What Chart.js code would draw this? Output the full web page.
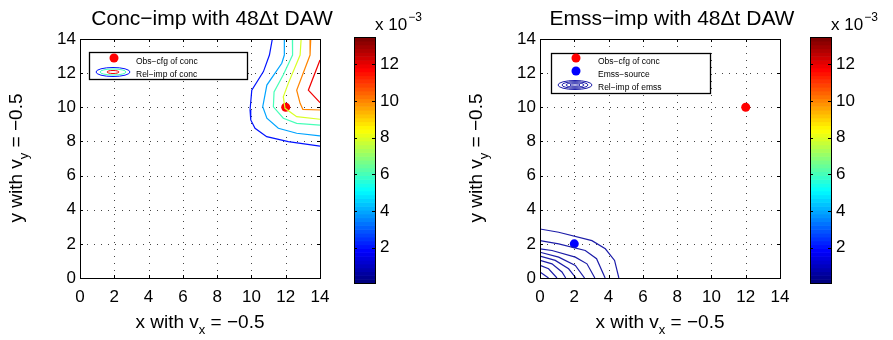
<!DOCTYPE html>
<html>
<head>
<meta charset="utf-8">
<script src="https://cdn.jsdelivr.net/npm/chart.js@4.4.1/dist/chart.umd.min.js"></script>
<style>
  body { margin: 0; background: #fff; }
  #wrap { position: relative; width: 893px; height: 340px; overflow: hidden; background: #fff; }
  canvas { position: absolute; top: 0; }
</style>
</head>
<body>
<div id="wrap">
  <canvas id="plot-conc" width="345" height="340" style="left:0"></canvas>
  <canvas id="cbar-conc" width="100" height="340" style="left:345px"></canvas>
  <canvas id="plot-emss" width="345" height="340" style="left:460px"></canvas>
  <canvas id="cbar-emss" width="92" height="340" style="left:801px"></canvas>
</div>
<script>
const FONT = '"Liberation Sans", Arial, Helvetica, sans-serif';

// axes
const axisTicks = [0, 2, 4, 6, 8, 10, 12, 14];
const colorbarTicks = [2, 4, 6, 8, 10, 12];
const colorbarMin = 0.07;   // x 10^-3
const colorbarMax = 13.5;

// points
const obsPoint = [12, 10];
const sourcePoint = [2, 2];

// conc-imp contours (level in 10^-3, then x,y vertices)
const concLevels = [2, 4, 6, 8, 10, 12];
const concLevel2 = [[11.22, 14], [11.05, 13.06], [10.7, 12.09], [10.02, 11.0], [9.92, 9.84], [9.96, 9.26], [10.21, 8.77], [10.89, 8.28], [12.15, 7.99], [14, 7.73]];
const concLevel4 = [[11.92, 14], [11.92, 13.06], [11.77, 12.58], [10.9, 11.3], [10.66, 10.04], [10.9, 9.36], [11.57, 8.77], [12.64, 8.48], [14, 8.32]];
const concLevel6 = [[12.39, 14], [12.4, 13.06], [11.86, 11.9], [11.32, 10.9], [11.28, 10.03], [11.86, 9.36], [12.64, 9.06], [14, 8.96]];
const concLevel8 = [[12.9, 14], [12.84, 13.06], [12.15, 11.4], [11.86, 10.62], [11.96, 9.94], [12.64, 9.45], [14, 9.3]];
const concLevel10 = [[13.46, 14], [13.42, 13.06], [12.64, 11.0], [12.84, 10.23], [13.0, 9.88], [14, 9.84]];
const concLevel12 = [[14, 12.77], [13.32, 11.0], [14, 10.27]];

// emss-imp contours
const emssLine1 = [[0, 2.87], [1.09, 2.68], [3.03, 2.19], [3.81, 1.71], [4.35, 1.03], [4.6, 0]];
const emssLine2 = [[0, 2.19], [1.09, 2.0], [2.64, 1.61], [3.3, 1.13], [3.8, 0]];
const emssLine3 = [[0, 1.71], [0.7, 1.61], [2.06, 1.22], [2.74, 0.83], [3.2, 0]];
const emssLine4 = [[0, 1.51], [1.09, 1.22], [2.06, 0.74], [2.6, 0]];
const emssLine5 = [[0, 1.28], [0.89, 1.03], [1.67, 0.54], [2.1, 0]];
const emssLine6 = [[0, 1.03], [0.7, 0.83], [1.28, 0.35], [1.5, 0]];
const emssLine7 = [[0, 0.74], [0.5, 0.54], [0.99, 0]];
const emssLine8 = [[0, 0.35], [0.5, 0]];

const EMSS_COLOR = '#1c1ca8';

// MATLAB jet, 64 steps
function jet(t) {
    t = Math.max(0, Math.min(1, t));
    t = Math.min(63, Math.floor(t * 64)) / 63;
    const c = v => Math.round(255 * Math.max(0, Math.min(1, v)));
    return `rgb(${c(1.5 - Math.abs(4 * t - 3))},${c(1.5 - Math.abs(4 * t - 2))},${c(1.5 - Math.abs(4 * t - 1))})`;
}
function levelColor(v) {
    return jet((v - colorbarMin) / (colorbarMax - colorbarMin));
}

function toXY(pts) {
    return pts.map(([x, y]) => ({ x, y }));
}

function lineSet(pts, color) {
    return {
        data: toXY(pts), showLine: true, borderColor: color, borderWidth: 1.2,
        pointRadius: 0, fill: false, tension: 0
    };
}

function dotSet(pt, color) {
    return {
        data: toXY([pt]), showLine: false, pointRadius: 4.5,
        backgroundColor: color, borderColor: color, borderWidth: 0
    };
}

// text with one subscript part: parts = [[text, isSub], ...]
function richText(ctx, parts, x, y, size, rotate) {
    const big = `${size}px ${FONT}`, small = `${Math.round(size * 0.7)}px ${FONT}`;
    let total = 0;
    parts.forEach(([t, sub]) => { ctx.font = sub ? small : big; total += ctx.measureText(t).width; });
    ctx.save();
    ctx.translate(x, y);
    if (rotate) ctx.rotate(-Math.PI / 2);
    ctx.fillStyle = '#000';
    ctx.textBaseline = 'alphabetic';
    ctx.textAlign = 'left';
    let cx = -total / 2;
    parts.forEach(([t, sub]) => {
        ctx.font = sub ? small : big;
        ctx.fillText(t, cx, sub ? size * 0.3 : 0);
        cx += ctx.measureText(t).width;
    });
    ctx.restore();
}

function framePlugin(cfg) {
    return {
        id: 'frame',
        beforeDatasetsDraw(chart) {
            const { ctx, chartArea: a, scales: { x, y } } = chart;
            ctx.save();
            ctx.strokeStyle = '#444';
            ctx.lineWidth = 1;
            ctx.setLineDash([1, 6]);
            x.ticks.forEach(t => {
                const px = Math.round(x.getPixelForValue(t.value)) + 0.5;
                ctx.beginPath(); ctx.moveTo(px, a.bottom); ctx.lineTo(px, a.top); ctx.stroke();
            });
            y.ticks.forEach(t => {
                const py = Math.round(y.getPixelForValue(t.value)) + 0.5;
                ctx.beginPath(); ctx.moveTo(a.left, py); ctx.lineTo(a.right, py); ctx.stroke();
            });
            ctx.restore();
        },
        afterDraw(chart) {
            const { ctx, chartArea: a, scales: { x, y } } = chart;
            ctx.save();
            // box + inward ticks
            ctx.strokeStyle = '#000';
            ctx.lineWidth = 1;
            ctx.strokeRect(Math.round(a.left) + 0.5, Math.round(a.top) + 0.5,
                Math.round(a.right - a.left), Math.round(a.bottom - a.top));
            ctx.beginPath();
            x.ticks.forEach(t => {
                const px = Math.round(x.getPixelForValue(t.value)) + 0.5;
                ctx.moveTo(px, a.bottom); ctx.lineTo(px, a.bottom - 3);
                ctx.moveTo(px, a.top); ctx.lineTo(px, a.top + 3);
            });
            y.ticks.forEach(t => {
                const py = Math.round(y.getPixelForValue(t.value)) + 0.5;
                ctx.moveTo(a.left, py); ctx.lineTo(a.left + 3, py);
                ctx.moveTo(a.right, py); ctx.lineTo(a.right - 3, py);
            });
            ctx.stroke();

            // legend box
            const L = cfg.legend;
            ctx.fillStyle = '#fff';
            ctx.fillRect(L.x, L.y, L.w, L.h);
            ctx.strokeStyle = '#000';
            ctx.lineWidth = 1.3;
            ctx.strokeRect(L.x + 0.5, L.y + 0.5, L.w, L.h);
            ctx.font = `8.5px ${FONT}`;
            ctx.textBaseline = 'middle';
            ctx.textAlign = 'left';
            L.items.forEach(it => {
                const iy = L.y + it.dy;
                if (it.kind === 'dot') {
                    ctx.fillStyle = it.color;
                    ctx.beginPath(); ctx.arc(L.x + 25, iy - 4, 4.5, 0, Math.PI * 2); ctx.fill();
                } else {
                    it.rings.forEach(r => {
                        ctx.strokeStyle = r.color;
                        ctx.lineWidth = 1;
                        ctx.beginPath();
                        ctx.ellipse(L.x + 24, iy - 3, r.rx, r.ry, 0, 0, Math.PI * 2);
                        ctx.stroke();
                    });
                }
                ctx.fillStyle = '#000';
                ctx.fillText(it.label, L.x + 47, iy);
            });

            // title and axis labels
            ctx.fillStyle = '#000';
            ctx.font = `21px ${FONT}`;
            ctx.textAlign = 'center';
            ctx.textBaseline = 'alphabetic';
            ctx.fillText(cfg.title, 212, 25);
            richText(ctx, [['x with v', false], ['x', true], [' = \u22120.5', false]], 200, 328, 19, false);
            richText(ctx, [['y with v', false], ['y', true], [' = \u22120.5', false]], 22, 158, 19, true);
            ctx.restore();
        }
    };
}

function makePlot(id, datasets, cfg) {
    const tickFont = { family: FONT, size: 17 };
    return new Chart(document.getElementById(id), {
        type: 'scatter',
        data: { datasets },
        options: {
            responsive: false,
            animation: false,
            layout: { padding: { left: 0, right: 25, top: 39, bottom: 22 } },
            plugins: { legend: { display: false }, tooltip: { enabled: false } },
            scales: {
                x: {
                    type: 'linear', min: 0, max: 14,
                    afterBuildTicks: s => { s.ticks = axisTicks.map(v => ({ value: v })); },
                    afterFit: s => { s.height = 40; },
                    ticks: { font: tickFont, color: '#000', padding: 9, maxRotation: 0 },
                    grid: { display: false, drawTicks: false },
                    border: { display: false }
                },
                y: {
                    type: 'linear', min: 0, max: 14,
                    afterBuildTicks: s => { s.ticks = axisTicks.map(v => ({ value: v })); },
                    afterFit: s => { s.width = 80; },
                    ticks: { font: tickFont, color: '#000', padding: 4 },
                    grid: { display: false, drawTicks: false },
                    border: { display: false }
                }
            }
        },
        plugins: [framePlugin(cfg)]
    });
}

function colorbarPlugin() {
    return {
        id: 'cbar',
        beforeDraw(chart) {
            const { ctx, chartArea: a, scales: { y } } = chart;
            ctx.save();
            const n = 64, step = (colorbarMax - colorbarMin) / n;
            for (let i = 0; i < n; i++) {
                const v0 = colorbarMin + i * step;
                const p0 = y.getPixelForValue(v0), p1 = y.getPixelForValue(v0 + step);
                ctx.fillStyle = jet((i + 0.5) / n);
                ctx.fillRect(a.left, p1, a.right - a.left, p0 - p1 + 0.6);
            }
            ctx.restore();
        },
        afterDraw(chart) {
            const { ctx, chartArea: a, scales: { y } } = chart;
            ctx.save();
            ctx.strokeStyle = '#000';
            ctx.lineWidth = 1;
            ctx.strokeRect(Math.round(a.left) + 0.5, Math.round(a.top) + 0.5,
                Math.round(a.right - a.left), Math.round(a.bottom - a.top));
            ctx.beginPath();
            y.ticks.forEach(t => {
                const py = Math.round(y.getPixelForValue(t.value)) + 0.5;
                ctx.moveTo(a.left, py); ctx.lineTo(a.left + 3, py);
                ctx.moveTo(a.right, py); ctx.lineTo(a.right - 3, py);
            });
            ctx.stroke();
            // exponent label
            ctx.fillStyle = '#000';
            ctx.textAlign = 'left';
            ctx.textBaseline = 'alphabetic';
            ctx.font = `17px ${FONT}`;
            ctx.fillText('x 10', a.right + 0, 30);
            const w = ctx.measureText('x 10').width;
            ctx.font = `12px ${FONT}`;
            ctx.fillText('\u22123', a.right + w + 1, 21);
            ctx.restore();
        }
    };
}

function makeColorbar(id, rightWidth) {
    return new Chart(document.getElementById(id), {
        type: 'scatter',
        data: { datasets: [] },
        options: {
            responsive: false,
            animation: false,
            layout: { padding: { left: 9, right: 0, top: 37, bottom: 57 } },
            plugins: { legend: { display: false }, tooltip: { enabled: false } },
            scales: {
                x: { display: false },
                y: {
                    position: 'right', type: 'linear', min: colorbarMin, max: colorbarMax,
                    afterBuildTicks: s => { s.ticks = colorbarTicks.map(v => ({ value: v })); },
                    afterFit: s => { s.width = rightWidth; },
                    ticks: { font: { family: FONT, size: 17 }, color: '#000', padding: 5 },
                    grid: { display: false, drawTicks: false },
                    border: { display: false }
                }
            }
        },
        plugins: [colorbarPlugin()]
    });
}

const concLines = [concLevel2, concLevel4, concLevel6, concLevel8, concLevel10, concLevel12];
makePlot('plot-conc', [
    ...concLines.map((pts, i) => lineSet(pts, levelColor(concLevels[i]))),
    dotSet(obsPoint, '#ff0000')
], {
    title: 'Conc\u2212imp with 48\u0394t DAW',
    legend: {
        x: 89, y: 52, w: 158, h: 27,
        items: [
            { kind: 'dot', color: '#ff0000', label: 'Obs\u2212cfg of conc', dy: 10 },
            { kind: 'rings', label: 'Rel\u2212imp of conc', dy: 23, rings: [
                { color: levelColor(2), rx: 17, ry: 4.5 },
                { color: levelColor(6), rx: 13, ry: 3 },
                { color: levelColor(12), rx: 6, ry: 1.5 }
            ] }
        ]
    }
});

const emssLines = [emssLine1, emssLine2, emssLine3, emssLine4, emssLine5, emssLine6, emssLine7, emssLine8];
makePlot('plot-emss', [
    ...emssLines.map(pts => lineSet(pts, EMSS_COLOR)),
    dotSet(obsPoint, '#ff0000'),
    dotSet(sourcePoint, '#0000ff')
], {
    title: 'Emss\u2212imp with 48\u0394t DAW',
    legend: {
        x: 91, y: 53, w: 159, h: 40,
        items: [
            { kind: 'dot', color: '#ff0000', label: 'Obs\u2212cfg of conc', dy: 9 },
            { kind: 'dot', color: '#0000ff', label: 'Emss\u2212source', dy: 22 },
            { kind: 'rings', label: 'Rel\u2212imp of emss', dy: 35, rings: [
                { color: EMSS_COLOR, rx: 17, ry: 4.5 },
                { color: EMSS_COLOR, rx: 13, ry: 3.3 },
                { color: EMSS_COLOR, rx: 9, ry: 2.2 },
                { color: EMSS_COLOR, rx: 5, ry: 1.2 }
            ] }
        ]
    }
});

makeColorbar('cbar-conc', 70);
makeColorbar('cbar-emss', 62);
</script>
</body>
</html>
